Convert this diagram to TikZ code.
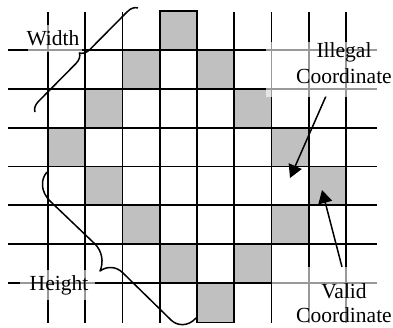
\documentclass[tikz,border=0pt]{standalone}
\usepackage{fontspec}
\setmainfont{Liberation Serif}
\usetikzlibrary{arrows.meta,decorations.pathreplacing}
\definecolor{cellgrey}{RGB}{192,192,192}
\begin{document}
\begin{tikzpicture}[x=1pt,y=-1pt,
  gridline/.style={line width=1.8pt},
  cell/.style={fill=cellgrey,draw=black,line width=1.8pt},
  lbl/.style={font=\fontsize{21.5}{26}\selectfont,inner sep=0pt,align=center},
  labelbg/.style={fill=white,fill opacity=0.6},
  bracepath/.style={line width=1.5pt,line join=round},
  ptr/.style={line width=1.5pt,-{Triangle[length=13pt,width=14pt]}}]
\useasboundingbox (0,0) rectangle (393,327);
% grey cells
\foreach \c/\r in {3/-1,4/0,5/1,6/2,7/3,6/4,5/5,2/0,1/1,0/2,1/3,2/4,3/5}
  \filldraw[cell] ({48+37.25*\c},{50+38.83*\r}) rectangle ++(37.25,38.83);
\filldraw[cell] ({48+37.25*4},283) rectangle ++(37.25,39.5);
% grid
\foreach \j in {0,...,8}
  \draw[gridline] ({48+37.25*\j},12) -- ({48+37.25*\j},323);
\foreach \k in {0,...,6}
  \draw[gridline] (8,{50+38.83*\k}) -- (377,{50+38.83*\k});
% braces
\coordinate (wA) at (35,112);
\coordinate (wB) at (138,8);
\draw[bracepath,decorate,decoration={brace,amplitude=10pt}] (wA) -- (wB);
\coordinate (hA) at (47,172);
\coordinate (hB) at (196,318);
\draw[bracepath] (hA) .. controls (40,180) and (41,192) .. (50,201) -- (95,244)
  .. controls (102,251) and (104,262) .. (100,271)
  .. controls (107,266) and (116,266) .. (123,273) -- (171,320)
  .. controls (177,326) and (188,327) .. (hB);
% arrows
\coordinate (illtail) at (326,96);
\coordinate (illtip) at (290,178);
\coordinate (valtail) at (342,267);
\coordinate (valtip) at (322,190);
\draw[ptr] (illtail) -- (illtip);
\draw[ptr] (valtail) -- (valtip);
% label backgrounds
\fill[labelbg] (28,25) rectangle (82,52);
\fill[labelbg] (20,270) rectangle (95,300);
\fill[labelbg] (266,42) rectangle (393,97);
\fill[labelbg] (272,267) rectangle (393,327);
% labels
\node[lbl] (width) at (53,38) {Width};
\node[lbl] (height) at (59,285) {Height};
\node[lbl] (illegal) at (344,63) {Illegal\\Coordinate};
\node[lbl] (valid) at (344,303) {Valid\\[-2pt]Coordinate};
\end{tikzpicture}
\end{document}
